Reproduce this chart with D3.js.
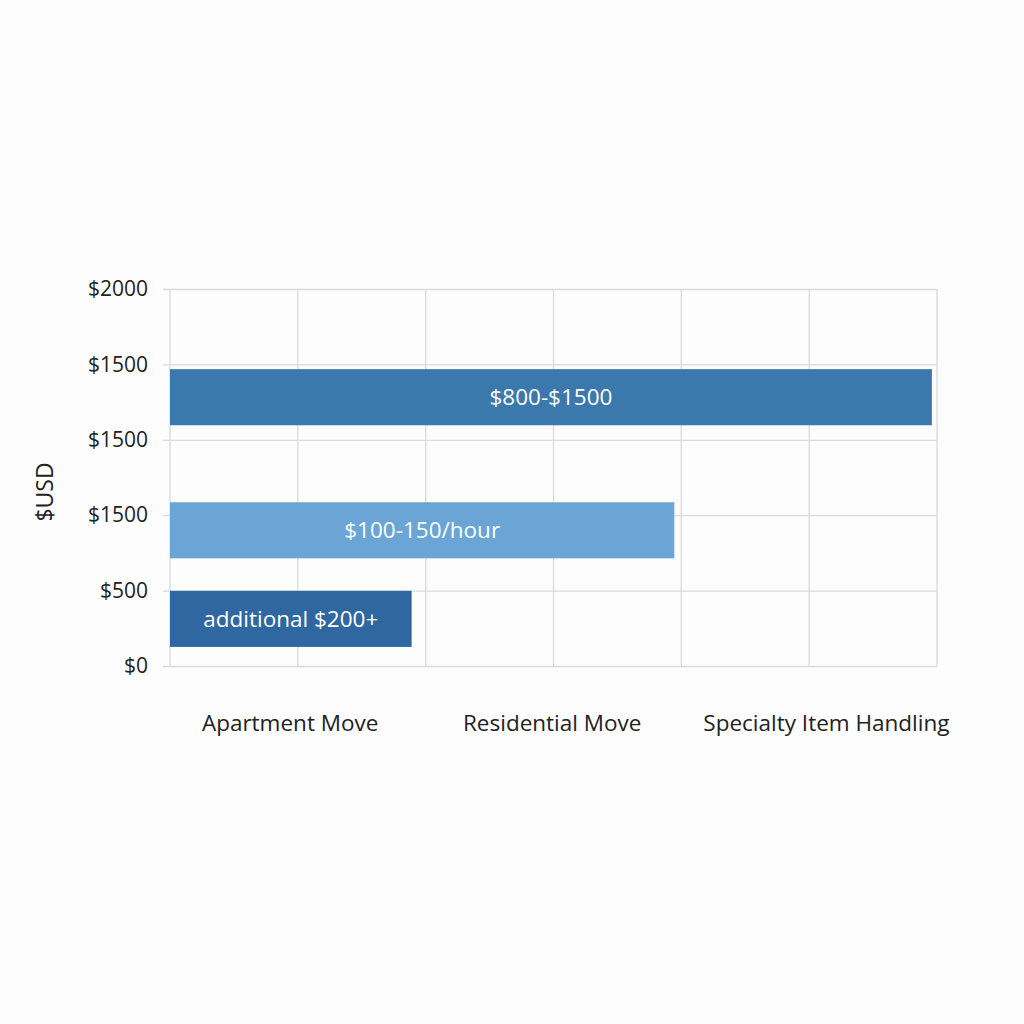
<!DOCTYPE html>
<html>
<head>
<meta charset="utf-8">
<script src="https://cdn.jsdelivr.net/npm/d3@7"></script>
<style>
  body { margin: 0; background: #fdfdfd; }
  text { font-family: "Open Sans", "Noto Sans", sans-serif; }
</style>
</head>
<body>
<svg id="chart" width="1024" height="1024"></svg>
<script>
// 1: DATA
const categories = ["Apartment Move", "Residential Move", "Specialty Item Handling"];
const categoryPos = [188, 598, 1027];          // where each category label sits on the x scale
const yTickLabels = ["$0", "$500", "$1500", "$1500", "$1500", "$2000"];
const barLabels = ["$800-$1500", "$100-150/hour", "additional $200+"];
const barValues = [1192, 789, 378];            // bar length on the x scale
const barLevels = [3.565, 1.80, 0.625];        // bar centre on the y scale
const barColors = ["#3b78ab", "#6aa5d6", "#2f67a0"];

// 2: LAYOUT
const margin = { top: 289, right: 87, bottom: 358, left: 170 };
const width = 1024 - margin.left - margin.right;
const height = 1024 - margin.top - margin.bottom;

const svg = d3.select("#chart")
    .append("g")
    .attr("transform", `translate(${margin.left},${margin.top})`);

// 3: SCALES
const x = d3.scaleLinear().domain([0, 1200]).range([0, width]);
const y = d3.scaleLinear().domain([0, 5]).range([height, 0]);
const barH = y(0) - y(0.744);

// 4: GRID
svg.append("g")
    .selectAll("line")
    .data(d3.range(0, 1201, 200))
    .join("line")
    .attr("x1", d => x(d)).attr("x2", d => x(d))
    .attr("y1", 0).attr("y2", height)
    .attr("stroke", "#dadada").attr("stroke-width", 1.3);

const yAxis = svg.append("g")
    .call(d3.axisLeft(y)
        .tickValues(d3.range(0, 6))
        .tickSize(-width)
        .tickSizeOuter(0)
        .tickPadding(22)
        .tickFormat((d, i) => yTickLabels[i]));
yAxis.select(".domain").remove();
yAxis.selectAll(".tick line")
    .attr("x1", -7)
    .attr("stroke", "#dadada").attr("stroke-width", 1.3);
yAxis.selectAll(".tick text")
    .attr("font-size", 21)
    .attr("fill", "#222")
    .style("font-family", "'Open Sans', sans-serif");

// 5: BARS
const bars = svg.append("g")
    .selectAll("g")
    .data(barValues)
    .join("g");

bars.append("rect")
    .attr("x", x(0))
    .attr("y", (d, i) => y(barLevels[i]) - barH / 2)
    .attr("width", d => x(d) - x(0))
    .attr("height", barH)
    .attr("fill", (d, i) => barColors[i]);

bars.append("text")
    .attr("x", d => x(d / 2))
    .attr("y", (d, i) => y(barLevels[i]))
    .attr("dy", "0.35em")
    .attr("text-anchor", "middle")
    .attr("font-size", 22.5)
    .attr("fill", "#fff")
    .text((d, i) => barLabels[i]);

// 6: LABELS
svg.append("g")
    .selectAll("text")
    .data(categories)
    .join("text")
    .attr("x", (d, i) => x(categoryPos[i]))
    .attr("y", height + 65)
    .attr("text-anchor", "middle")
    .attr("font-size", 22.5)
    .attr("fill", "#222")
    .text(d => d);

svg.append("text")
    .attr("transform", "rotate(-90)")
    .attr("x", -(492 - margin.top))
    .attr("y", -117)
    .attr("text-anchor", "middle")
    .attr("font-size", 23)
    .attr("fill", "#222")
    .text("$USD");
</script>
</body>
</html>
